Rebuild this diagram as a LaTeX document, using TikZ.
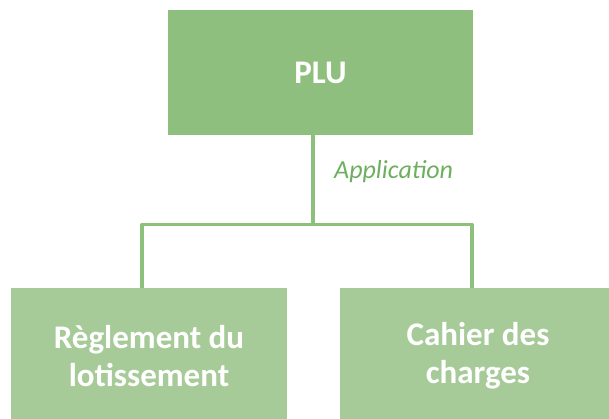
\documentclass[tikz,border=0pt]{standalone}
\usepackage{fontspec}
\setmainfont{Carlito}
\usepackage{tikz}
\definecolor{boxtop}{HTML}{8FBF7F}
\definecolor{boxlow}{HTML}{A7CB98}
\definecolor{linkgreen}{HTML}{8EC07D}
\definecolor{labelgreen}{HTML}{6DAF5E}

\begin{document}
\begin{tikzpicture}[x=1pt,y=-1pt,
  topbox/.style={fill=boxtop,text=white,font=\fontsize{33}{38}\selectfont\bfseries,
    minimum width=305pt,minimum height=125pt,inner sep=0pt},
  lowbox/.style={fill=boxlow,text=white,font=\fontsize{33}{38}\selectfont\bfseries,
    minimum width=276pt,minimum height=136pt,inner sep=0pt,align=center},
  link/.style={draw=linkgreen,line width=3.2pt,line join=round},
  lbl/.style={text=labelgreen,font=\fontsize{26}{30}\selectfont\itshape,inner sep=0pt}]
\useasboundingbox (0,0) rectangle (609,419);
\clip (0,0) rectangle (609,419);
\node[topbox] (plu) at (320.5,72.5) {PLU};
\node[lowbox] (regl) at (149,356) {Règlement du\\lotissement};
\node[lowbox] (cahier) at (478,356) {Cahier des\\charges};
\coordinate (junction) at (313,224.5);
\coordinate (jl) at (142,224.5);
\coordinate (jr) at (472,224.5);
\node[lbl,anchor=west] (appl) at (334,172) {Application};
\draw[link] (plu.south -| junction) -- (junction);
\draw[link] (jl |- regl.north) -- (jl) -- (jr) -- (jr |- cahier.north);
\end{tikzpicture}
\end{document}
